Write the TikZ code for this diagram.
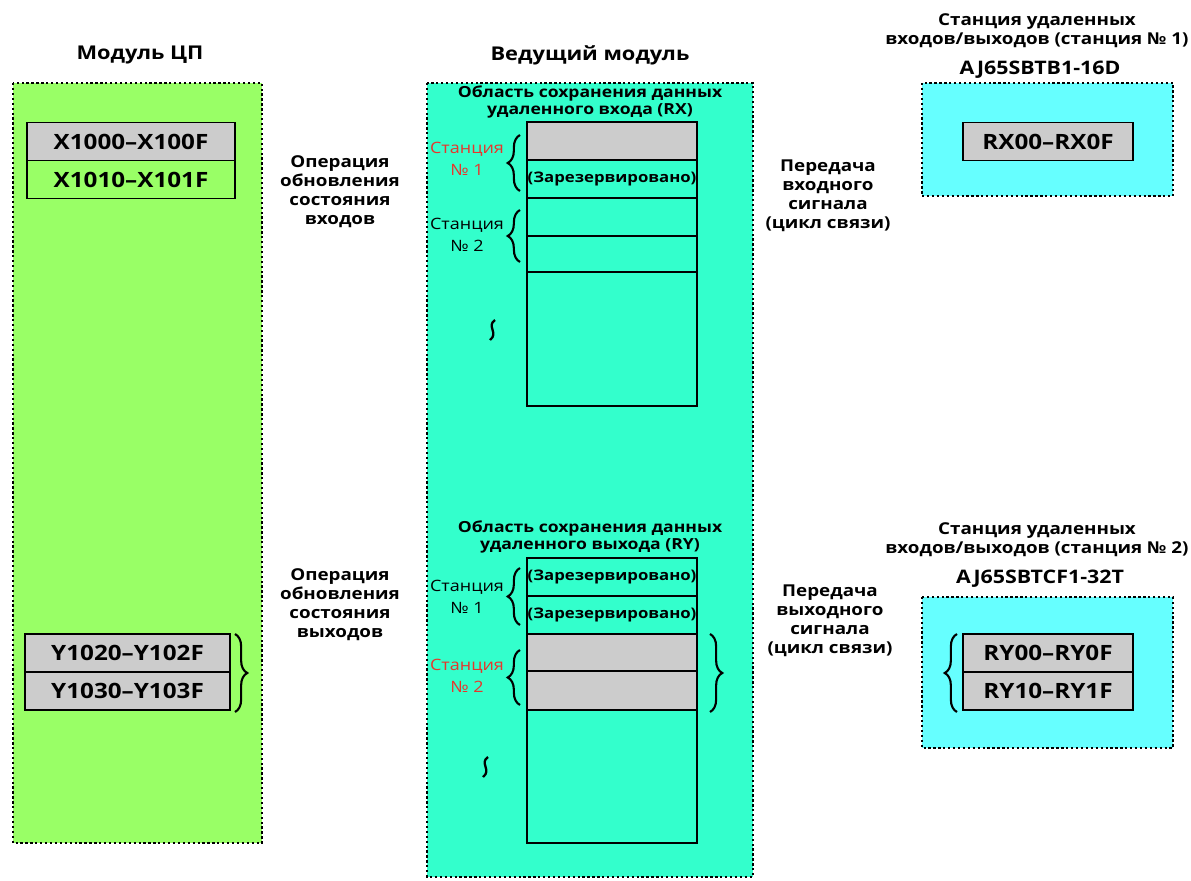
\documentclass[tikz,border=0pt]{standalone}
\usepackage{fontspec}
\setmainfont{Open Sans}[FakeStretch=1.15]
\usetikzlibrary{positioning, decorations.pathreplacing}
\definecolor{cpugreen}{HTML}{99FF66}
\definecolor{masteraqua}{HTML}{33FFCC}
\definecolor{remotecyan}{HTML}{66FFFF}
\definecolor{cellgrey}{HTML}{CCCCCC}
\definecolor{stationred}{HTML}{E8352C}
\def\cellW{3.4cm}
\def\cellH{0.76cm}
% small vertical wave marking omitted rows
\newcommand{\skipmark}[1]{%
\draw[line width=1.3pt] ([shift={(3,-10)}]#1) .. controls ([shift={(-6,-4)}]#1) and ([shift={(7,3)}]#1) .. ([shift={(-2,10)}]#1);
}

\begin{document}
\begin{tikzpicture}[
    x=0.02cm, y=-0.02cm,
    every node/.style={font=\bfseries, inner sep=0pt},
    module/.style={line width=1.5pt, dash pattern=on 1.3pt off 1.5pt},
    cell/.style={draw, line width=0.8pt, minimum width=\cellW, minimum height=\cellH, outer sep=0pt, font=\bfseries\fontsize{12}{14}\selectfont},
    title/.style={font=\bfseries\fontsize{10.8}{13}\selectfont},
    model/.style={font=\bfseries\fontsize{10.6}{13}\selectfont},
    note/.style={align=center, font=\bfseries\fontsize{9.3}{10.8}\selectfont},
    area/.style={align=center, font=\bfseries\fontsize{8.7}{9.6}\selectfont},
    reserved/.style={font=\bfseries\fontsize{8.3}{10}\selectfont},
    station/.style={align=center, font=\fontsize{8.9}{12.4}\selectfont},
    brace/.style={decorate, decoration={brace, amplitude=7pt}, line width=1.2pt}
]
\useasboundingbox (0,0) rectangle (1191,880);

% modules
\path[module, draw, fill=cpugreen] (13,83) rectangle (262,843);
\path[module, draw, fill=masteraqua] (427,83) rectangle (753,877);
\path[module, draw, fill=remotecyan] (922,83) rectangle (1173,196);
\path[module, draw, fill=remotecyan] (922,597) rectangle (1173,748);

\node[title] (cpu) at (140,55) {Модуль ЦП};
\node[title] (master) at (590,55) {Ведущий модуль};
\node[note] (st1head) at (1037,31) {Станция удаленных\\входов/выходов (станция № 1)};
\node[model] (st1model) at (1040,70) {AJ65SBTB1-16D};
\node[note] (st2head) at (1037,540) {Станция удаленных\\входов/выходов (станция № 2)};
\node[model] (st2model) at (1040,579) {AJ65SBTCF1-32T};

% CPU devices
\node[cell, minimum width=4.16cm, fill=cellgrey] (x1) at (131,141.5) {X1000–X100F};
\node[cell, minimum width=4.16cm, below=0pt of x1] (x2) {X1010–X101F};
\node[cell, minimum width=4.1cm, fill=cellgrey] (y1) at (127.5,653) {Y1020–Y102F};
\node[cell, minimum width=4.1cm, fill=cellgrey, below=0pt of y1] (y2) {Y1030–Y103F};

% RX buffer
\node[area] (rxhead) at (590,102) {Область сохранения данных\\удаленного входа (RX)};
\node[cell, fill=cellgrey] (rx1) at (612,141) {};
\node[cell, below=0pt of rx1, reserved] (rx2) {(Зарезервировано)};
\node[cell, below=0pt of rx2] (rx3) {};
\node[cell, below=0pt of rx3, minimum height=0.72cm] (rx4) {};
\node[cell, below=0pt of rx4, minimum height=2.68cm] (rx5) {};

% RY buffer
\node[area] (ryhead) at (590,537) {Область сохранения данных\\удаленного выхода (RY)};
\node[cell, reserved] (ry1) at (612,577) {(Зарезервировано)};
\node[cell, below=0pt of ry1, reserved] (ry2) {(Зарезервировано)};
\node[cell, below=0pt of ry2, fill=cellgrey, minimum height=0.74cm] (ry3) {};
\node[cell, below=0pt of ry3, fill=cellgrey, minimum height=0.78cm] (ry4) {};
\node[cell, below=0pt of ry4, minimum height=2.66cm] (ry5) {};

% remote stations
\node[cell, fill=cellgrey] (rxs) at (1048,141.5) {RX00–RX0F};
\node[cell, fill=cellgrey] (rys1) at (1048,653) {RY00–RY0F};
\node[cell, fill=cellgrey, below=0pt of rys1] (rys2) {RY10–RY1F};

% station labels
\node[station, text=stationred] (rxst1) at (467,159) {Станция\\№ 1};
\node[station] (rxst2) at (467,235) {Станция\\№ 2};
\node[station] (ryst1) at (467,597) {Станция\\№ 1};
\node[station, text=stationred] (ryst2) at (467,676) {Станция\\№ 2};

\draw[brace] ([shift={(-7,-7)}]rx2.south west) -- ([shift={(-7,13)}]rx1.north west);
\draw[brace] ([shift={(-7,-10)}]rx4.south west) -- ([shift={(-7,12)}]rx3.north west);
\draw[brace] ([shift={(-7,-9)}]ry2.south west) -- ([shift={(-7,10)}]ry1.north west);
\draw[brace] ([shift={(-7,-5)}]ry4.south west) -- ([shift={(-7,16)}]ry3.north west);
\draw[brace] ([shift={(13,0)}]ry3.north east) -- ([shift={(13,2)}]ry4.south east);
\draw[brace] ([shift={(5,0)}]y1.north east) -- ([shift={(5,2)}]y2.south east);
\draw[brace] ([shift={(-6,2)}]rys2.south west) -- ([shift={(-6,0)}]rys1.north west);

\skipmark{492,330}
\skipmark{485,767}

% transfer notes
\node[note] (inrefresh) at (340,192) {Операция\\обновления\\состояния\\входов};
\node[note] (outrefresh) at (340,605) {Операция\\обновления\\состояния\\выходов};
\node[note] (inlink) at (828,196) {Передача\\входного\\сигнала\\(цикл связи)};
\node[note] (outlink) at (830,621) {Передача\\выходного\\сигнала\\(цикл связи)};
\end{tikzpicture}
\end{document}
